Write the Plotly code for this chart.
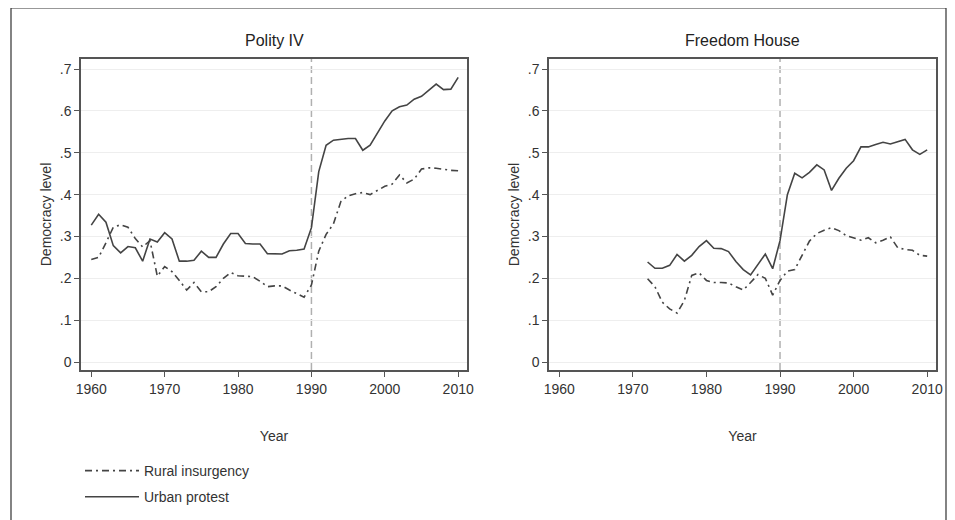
import plotly.graph_objects as go

years_polity = list(range(1960, 2011))
polity_urban = [0.327, 0.353, 0.334, 0.278, 0.261, 0.276, 0.273, 0.241, 0.294, 0.287,
                0.309, 0.294, 0.241, 0.241, 0.243, 0.265, 0.250, 0.250, 0.282, 0.307,
                0.307, 0.283, 0.282, 0.282, 0.259, 0.258, 0.258, 0.266, 0.267, 0.270,
                0.321, 0.455, 0.518, 0.530, 0.532, 0.534, 0.534, 0.506, 0.518, 0.548,
                0.576, 0.600, 0.610, 0.614, 0.628, 0.635, 0.649, 0.664, 0.651, 0.652,
                0.680]
polity_rural = [0.245, 0.250, 0.285, 0.322, 0.328, 0.322, 0.295, 0.275, 0.290, 0.205,
                0.228, 0.216, 0.195, 0.172, 0.190, 0.168, 0.168, 0.180, 0.200, 0.214,
                0.206, 0.205, 0.204, 0.193, 0.180, 0.182, 0.182, 0.172, 0.164, 0.155,
                0.184, 0.265, 0.305, 0.330, 0.383, 0.397, 0.402, 0.405, 0.400, 0.410,
                0.420, 0.425, 0.447, 0.428, 0.437, 0.461, 0.464, 0.463, 0.460, 0.458,
                0.457]

years_fh = list(range(1972, 2011))
fh_urban = [0.239, 0.224, 0.224, 0.231, 0.257, 0.241, 0.255, 0.276, 0.290, 0.272,
            0.271, 0.264, 0.240, 0.221, 0.208, 0.234, 0.258, 0.223, 0.290, 0.400,
            0.451, 0.440, 0.453, 0.471, 0.459, 0.410, 0.439, 0.463, 0.481, 0.514,
            0.514, 0.520, 0.525, 0.521, 0.526, 0.532, 0.507, 0.496, 0.507]
fh_rural = [0.199, 0.180, 0.143, 0.127, 0.117, 0.147, 0.207, 0.213, 0.195, 0.190,
            0.190, 0.189, 0.180, 0.172, 0.190, 0.209, 0.200, 0.160, 0.195, 0.217,
            0.221, 0.257, 0.289, 0.307, 0.315, 0.321, 0.314, 0.302, 0.297, 0.291,
            0.297, 0.285, 0.291, 0.299, 0.273, 0.269, 0.267, 0.255, 0.253]

y_ticks = [0, 0.1, 0.2, 0.3, 0.4, 0.5, 0.6, 0.7]
y_tick_labels = ["0", ".1", ".2", ".3", ".4", ".5", ".6", ".7"]
x_ticks = [1960, 1970, 1980, 1990, 2000, 2010]
x_tick_labels = ["1960", "1970", "1980", "1990", "2000", "2010"]
break_year = 1990

LINE = "#444444"
AXIS = "#555555"
TXT = "#333333"
FONT = "Liberation Sans"
RURAL_DASH = "7px,4px,2px,4px"

# The page body has an 8px default margin; size the figure to fill the rest.
OFF = 8
W, H = 955 - OFF, 520 - OFF
def px(x):
    return (x - OFF) / W
def py(y):
    return 1 - (y - OFF) / H

fig = go.Figure()

# Left panel
fig.add_trace(go.Scatter(x=years_polity, y=polity_rural, mode="lines",
                         name="Rural insurgency", xaxis="x", yaxis="y",
                         legendgroup="rural",
                         line=dict(color=LINE, width=1.6, dash=RURAL_DASH)))
fig.add_trace(go.Scatter(x=years_polity, y=polity_urban, mode="lines",
                         name="Urban protest", xaxis="x", yaxis="y",
                         legendgroup="urban",
                         line=dict(color=LINE, width=1.6)))
# Right panel
fig.add_trace(go.Scatter(x=years_fh, y=fh_rural, mode="lines", showlegend=False,
                         name="Rural insurgency", xaxis="x2", yaxis="y2",
                         legendgroup="rural",
                         line=dict(color=LINE, width=1.6, dash=RURAL_DASH)))
fig.add_trace(go.Scatter(x=years_fh, y=fh_urban, mode="lines", showlegend=False,
                         name="Urban protest", xaxis="x2", yaxis="y2",
                         legendgroup="urban",
                         line=dict(color=LINE, width=1.6)))

yrange = [-0.019, 0.724]
xrange = [1958.6, 2011.2]

common_x = dict(range=xrange, tickvals=x_ticks, ticktext=x_tick_labels,
                showgrid=False, zeroline=False, showline=True, mirror=True,
                linecolor=AXIS, linewidth=1.5, ticks="outside", ticklen=5,
                tickcolor=AXIS, tickwidth=1, automargin=False,
                tickfont=dict(family=FONT, size=14, color=TXT),
                title=dict(text="Year", font=dict(family=FONT, size=14, color=TXT),
                           standoff=36))
common_y = dict(range=yrange, tickvals=y_ticks, ticktext=y_tick_labels,
                showgrid=True, gridcolor="#eeeeee", gridwidth=1,
                zeroline=False, showline=True, mirror=True,
                linecolor=AXIS, linewidth=1.5, ticks="outside", ticklen=5,
                tickcolor=AXIS, tickwidth=1, automargin=False,
                tickfont=dict(family=FONT, size=14, color=TXT),
                title=dict(text="Democracy level", font=dict(family=FONT, size=14, color=TXT),
                           standoff=5))

dom_y = [py(370), py(59)]
fig.update_layout(
    width=W, height=H,
    margin=dict(l=0, r=0, t=0, b=0, autoexpand=False),
    paper_bgcolor="white", plot_bgcolor="white",
    font=dict(family=FONT, color=TXT),
    xaxis=dict(domain=[px(81), px(467)], anchor="y", **common_x),
    yaxis=dict(domain=dom_y, anchor="x", **common_y),
    xaxis2=dict(domain=[px(549), px(936)], anchor="y2", **common_x),
    yaxis2=dict(domain=dom_y, anchor="x2", **common_y),
    showlegend=True,
    legend=dict(x=px(80), y=py(455), xanchor="left", yanchor="top",
                font=dict(family=FONT, size=14, color=TXT),
                bgcolor="rgba(0,0,0,0)", tracegroupgap=5, itemwidth=54),
)

# Vertical 1990 reference lines
for xa, ya in (("x", "y"), ("x2", "y2")):
    fig.add_shape(type="line", xref=xa, yref=ya + " domain",
                  x0=break_year, x1=break_year, y0=0, y1=1,
                  line=dict(color="#b0b0b0", width=1.5, dash="7px,4px"), layer="below")

# Panel titles
fig.add_annotation(text="Polity IV", x=(px(81) + px(467)) / 2, y=py(40),
                   xref="paper", yref="paper", showarrow=False,
                   xanchor="center", yanchor="middle",
                   font=dict(family=FONT, size=16, color="#222222"))
fig.add_annotation(text="Freedom House", x=(px(549) + px(936)) / 2, y=py(40),
                   xref="paper", yref="paper", showarrow=False,
                   xanchor="center", yanchor="middle",
                   font=dict(family=FONT, size=16, color="#222222"))

# Outer frame
fig.add_shape(type="rect", xref="paper", yref="paper",
              x0=px(11), x1=px(946), y0=-0.05, y1=py(8),
              line=dict(color="#333333", width=1.2), fillcolor="rgba(0,0,0,0)")

fig.write_html("out.html")
